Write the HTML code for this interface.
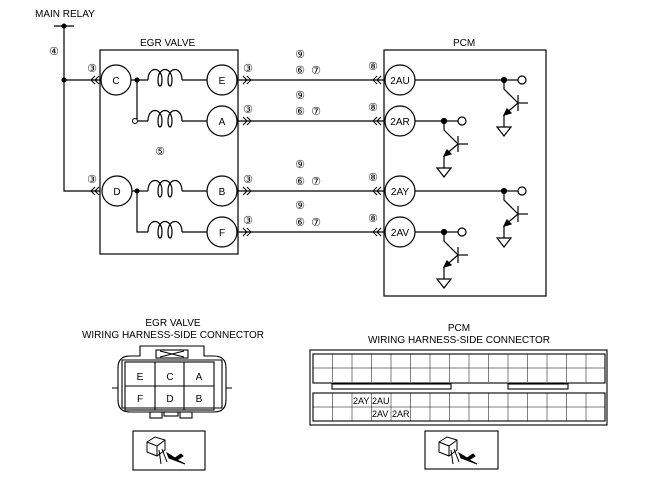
<!DOCTYPE html>
<html><head><style>body{margin:0;background:#fff}svg{display:block}text{font-family:"Liberation Sans",sans-serif;fill:#000}</style></head><body>
<svg width="645" height="477" viewBox="0 0 645 477" xmlns="http://www.w3.org/2000/svg">
<defs>
<g id="tr" stroke="#000" stroke-width="1.2" fill="none">
<circle cx="0" cy="0" r="2.5" fill="#000"/>
<circle cx="18" cy="0" r="4" fill="#fff"/>
<line x1="0" y1="0" x2="14" y2="0"/>
<polyline points="0,0 0,9 14,23"/>
<line x1="14" y1="15" x2="14" y2="31"/>
<line x1="14" y1="23" x2="24" y2="23"/>
<polyline points="14,23 0,35 0,47"/>
<polygon points="0,35 7,33 3,29" fill="#000"/>
<polygon points="-7,47 7,47 0,56" fill="#fff"/>
</g>
<g id="coil" stroke="#000" stroke-width="1.2" fill="none">
<path d="M0,0 C0,-14 14,-14 14,0 C14,8 10,8 10,0 C10,-14 24,-14 24,0 C24,8 20,8 20,0 C20,-14 34,-14 34,0"/>
</g>
<g id="dr" stroke="#000" stroke-width="1.1" fill="none"><polyline points="0,-4 4,0 0,4"/><polyline points="4,-4 8,0 4,4"/></g>
<g id="dl" stroke="#000" stroke-width="1.1" fill="none"><polyline points="8,-4 4,0 8,4"/><polyline points="4,-4 0,0 4,4"/></g>
<g id="vl" stroke="#000" stroke-width="0.5">
<line x1="332.5" y1="0" x2="332.5" y2="28"/><line x1="352" y1="0" x2="352" y2="28"/><line x1="371.5" y1="0" x2="371.5" y2="28"/><line x1="391" y1="0" x2="391" y2="28"/><line x1="410.5" y1="0" x2="410.5" y2="28"/><line x1="430" y1="0" x2="430" y2="28"/><line x1="449.5" y1="0" x2="449.5" y2="28"/><line x1="469" y1="0" x2="469" y2="28"/><line x1="488.5" y1="0" x2="488.5" y2="28"/><line x1="508" y1="0" x2="508" y2="28"/><line x1="527.5" y1="0" x2="527.5" y2="28"/><line x1="547" y1="0" x2="547" y2="28"/><line x1="566.5" y1="0" x2="566.5" y2="28"/><line x1="586" y1="0" x2="586" y2="28"/>
</g>
</defs>
<g font-size="10">
<text x="35" y="17">MAIN RELAY</text>
<text x="140" y="46">EGR VALVE</text>
<text x="453" y="46">PCM</text>
</g>
<g stroke="#000" stroke-width="1.2" fill="none">
<line x1="54" y1="26" x2="74" y2="26"/>
<polyline points="64,26 64,191 100,191"/>
<line x1="64" y1="80" x2="100" y2="80"/>
<rect x="100" y="50" width="138" height="204"/>
<rect x="384" y="50" width="162" height="246"/>
<circle cx="116" cy="80" r="15"/><circle cx="222" cy="80" r="15"/>
<circle cx="222" cy="121" r="15"/><circle cx="117" cy="191" r="15"/>
<circle cx="222" cy="191" r="15"/><circle cx="222" cy="232" r="15"/>
<circle cx="400" cy="80" r="15"/><circle cx="400" cy="121" r="15"/>
<circle cx="400" cy="191" r="15"/><circle cx="400" cy="232" r="15"/>
<line x1="131" y1="80" x2="148" y2="80"/><line x1="182" y1="80" x2="207" y2="80"/>
<polyline points="137,80 137,121 148,121"/><line x1="182" y1="121" x2="207" y2="121"/>
<line x1="132" y1="191" x2="148" y2="191"/><line x1="182" y1="191" x2="207" y2="191"/>
<polyline points="137,191 137,232 148,232"/><line x1="182" y1="232" x2="207" y2="232"/>
<line x1="237" y1="80" x2="385" y2="80"/><line x1="237" y1="121" x2="385" y2="121"/>
<line x1="237" y1="191" x2="385" y2="191"/><line x1="237" y1="232" x2="385" y2="232"/>
<line x1="415" y1="80" x2="504" y2="80"/><line x1="415" y1="121" x2="444" y2="121"/>
<line x1="415" y1="191" x2="504" y2="191"/><line x1="415" y1="232" x2="444" y2="232"/>
</g>
<circle cx="64" cy="26" r="2.5"/><circle cx="64" cy="80" r="2.5"/>
<circle cx="137" cy="80" r="2.5"/><circle cx="137" cy="191" r="2.5"/>
<circle cx="135" cy="121" r="2.5" fill="#fff" stroke="#000"/>
<use href="#coil" x="148" y="80"/><use href="#coil" x="148" y="121"/>
<use href="#coil" x="148" y="191"/><use href="#coil" x="148" y="232"/>
<use href="#dl" x="91" y="80"/><use href="#dl" x="91" y="191"/>
<use href="#dr" x="243" y="80"/><use href="#dr" x="243" y="121"/><use href="#dr" x="243" y="191"/><use href="#dr" x="243" y="232"/>
<use href="#dl" x="373" y="80"/><use href="#dl" x="373" y="121"/><use href="#dl" x="373" y="191"/><use href="#dl" x="373" y="232"/>
<use href="#tr" x="504" y="80"/><use href="#tr" x="444" y="121"/>
<use href="#tr" x="504" y="191"/><use href="#tr" x="444" y="232"/>
<g font-size="10" text-anchor="middle">
<text x="116" y="84">C</text><text x="222" y="84">E</text><text x="222" y="125">A</text>
<text x="117" y="195">D</text><text x="222" y="195">B</text><text x="222" y="236">F</text>
<text x="400" y="84">2AU</text><text x="400" y="125">2AR</text><text x="400" y="195">2AY</text><text x="400" y="236">2AV</text>
</g>
<g font-size="11" text-anchor="middle">
<text x="54" y="55">④</text><text x="160" y="155">⑤</text>
<text x="92" y="72">③</text><text x="92" y="183">③</text>
<text x="248" y="72">③</text><text x="248" y="113">③</text><text x="248" y="183">③</text><text x="248" y="224">③</text>
<text x="300" y="58">⑨</text><text x="300" y="99">⑨</text><text x="300" y="168">⑨</text><text x="300" y="209">⑨</text>
<text x="300" y="74">⑥</text><text x="316" y="74">⑦</text><text x="300" y="115">⑥</text><text x="316" y="115">⑦</text>
<text x="300" y="185">⑥</text><text x="316" y="185">⑦</text><text x="300" y="226">⑥</text><text x="316" y="226">⑦</text>
<text x="373" y="70">⑧</text><text x="373" y="111">⑧</text><text x="373" y="181">⑧</text><text x="373" y="222">⑧</text>
</g>
<g font-size="10" text-anchor="middle">
<text x="173" y="326">EGR VALVE</text><text x="173" y="338">WIRING HARNESS-SIDE CONNECTOR</text>
<text x="459" y="331">PCM</text><text x="459" y="343">WIRING HARNESS-SIDE CONNECTOR</text>
</g>
<g stroke="#000" stroke-width="1.1" fill="none">
<path d="M146,346 H204 V356 H214 Q226,356 226,368 V400 Q226,412 214,412 H130 Q118,412 118,400 V368 Q118,356 130,356 H140 V346 Z"/>
<path d="M112,388 H118 M232,388 H226"/>
<path d="M122,360 V408 H222 V360 Z"/>
<rect x="156" y="350" width="32" height="8"/>
<path d="M160,351 L184,357 M160,357 L184,351"/>
<rect x="125" y="362" width="89" height="48"/>
<line x1="155" y1="362" x2="155" y2="410"/><line x1="184" y1="362" x2="184" y2="410"/>
<line x1="125" y1="386" x2="214" y2="386"/>
<rect x="150" y="412" width="12" height="6"/><rect x="164" y="412" width="14" height="4"/><rect x="180" y="412" width="12" height="6"/>
<rect x="133" y="431" width="72" height="39"/>
<rect x="425" y="431" width="73" height="38"/>
<rect x="310" y="350" width="297" height="75"/>
<rect x="313" y="354" width="292" height="29"/>
<rect x="313" y="393" width="292" height="28"/>
<rect x="332" y="384" width="119" height="5"/><rect x="508" y="384" width="60" height="5"/>
</g>
<g stroke="#000" stroke-width="0.5">
<line x1="313" y1="368" x2="605" y2="368"/><line x1="313" y1="407" x2="605" y2="407"/>
</g>
<use href="#vl" x="0" y="354"/><use href="#vl" x="0" y="393"/>
<g font-size="9">
<text x="353" y="404">2AY</text><text x="372" y="404">2AU</text>
<text x="372" y="417">2AV</text><text x="392" y="417">2AR</text>
</g>
<g font-size="10" text-anchor="middle">
<text x="140" y="380">E</text><text x="170" y="380">C</text><text x="199" y="380">A</text>
<text x="140" y="402">F</text><text x="170" y="402">D</text><text x="199" y="402">B</text>
</g>
<g stroke="#000" stroke-width="1" fill="#fff">
<g transform="translate(145,436)"><path d="M2,6 L10,1 L20,4 L20,14 L12,20 L2,16 Z"/><path d="M2,6 L12,10 L20,4 M12,10 V20"/><path d="M14,14 L16,28 M17,13 L22,26" fill="none"/><path d="M22,17 L30,22 L36,18 L38,20 L32,24 L40,28 L24,22 Z" fill="#000"/></g>
<g transform="translate(437,436)"><path d="M2,6 L10,1 L20,4 L20,14 L12,20 L2,16 Z"/><path d="M2,6 L12,10 L20,4 M12,10 V20"/><path d="M14,14 L16,28 M17,13 L22,26" fill="none"/><path d="M22,17 L30,22 L36,18 L38,20 L32,24 L40,28 L24,22 Z" fill="#000"/></g>
</g>
</svg>
</body></html>
